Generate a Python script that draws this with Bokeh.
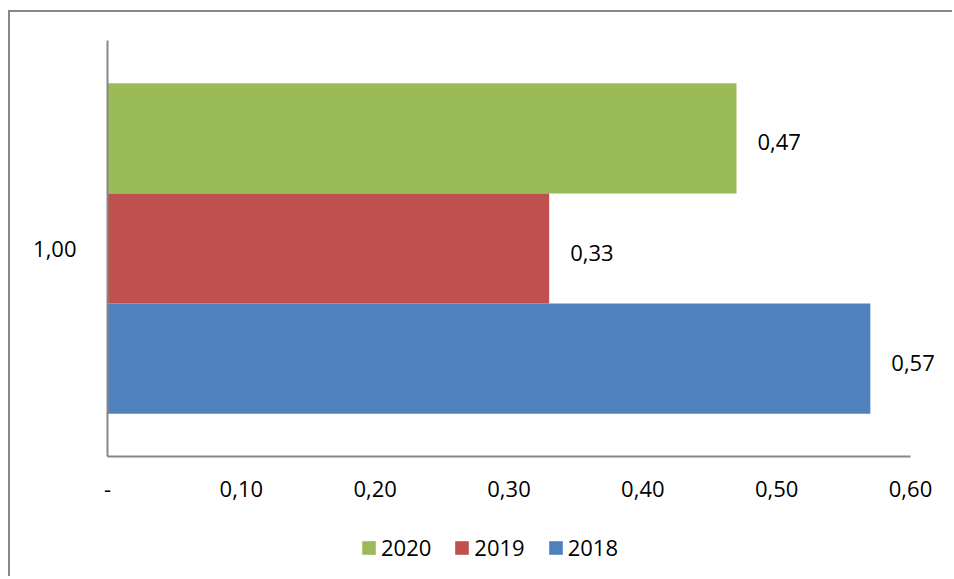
from bokeh.plotting import figure
from bokeh.layouts import column
from bokeh.models import (Range1d, FactorRange, FixedTicker, Legend, LegendItem,
                          LabelSet, ColumnDataSource)
from bokeh.transform import dodge
from bokeh.core.properties import value
from bokeh.embed import file_html
from bokeh.resources import INLINE

# ---- data ----
categories = ["1,00"]
series = ["2020", "2019", "2018"]
values = [0.47, 0.33, 0.57]
colors = ["#9BBB59", "#C0504D", "#4F81BD"]
offsets = [0.265, 0.0, -0.265]
x_ticks = [0.0, 0.1, 0.2, 0.3, 0.4, 0.5, 0.6]
x_tick_labels = ["-", "0,10", "0,20", "0,30", "0,40", "0,50", "0,60"]
x_axis_end = 0.6

FONT = "Open Sans"
FS = "22px"
GRAY = "#878787"
W = 942
AXIS_PX = 803          # pixel length of the 0 .. 0.6 axis
FRAME_PX = 837         # frame extends right so the last value label is not clipped

p = figure(width=W, height=504, output_backend="svg", toolbar_location=None,
           x_range=Range1d(0, x_axis_end * FRAME_PX / AXIS_PX),
           y_range=FactorRange(*categories, range_padding=0),
           min_border_left=97, min_border_top=28, min_border_right=W - 97 - FRAME_PX,
           min_border_bottom=60)
p.outline_line_color = None
p.xgrid.grid_line_color = None
p.ygrid.grid_line_color = None

# legend strip below the chart
lf = figure(width=W, height=60, output_backend="svg", toolbar_location=None,
            x_range=Range1d(0, 1), y_range=Range1d(0, 1),
            x_axis_location=None, y_axis_location=None,
            min_border=0, min_border_left=0, min_border_right=0,
            min_border_top=0, min_border_bottom=0)
lf.outline_line_color = None
lf.grid.visible = False

items = []
for name, v, c, off in zip(series, values, colors, offsets):
    src = ColumnDataSource({"cat": categories, "val": [v],
                            "lab": [f"{v:.2f}".replace(".", ",")]})
    p.hbar(y=dodge("cat", off, range=p.y_range), right="val", left=0, height=0.265,
           source=src, fill_color=c, line_color=None)
    p.add_layout(LabelSet(x="val", y=dodge("cat", off, range=p.y_range), text="lab",
                          source=src, x_offset=21, y_offset=-4, text_align="left",
                          text_baseline="middle", text_font=value(FONT),
                          text_font_size=FS, text_color="#000000"))
    swatch = lf.hbar(y="val", right="val", left=0, height=0.01, source=src,
                     fill_color=c, line_color=None, visible=False)
    items.append(LegendItem(label=name, renderers=[swatch]))

# axes
for ax in (p.xaxis[0], p.yaxis[0]):
    ax.axis_line_color = GRAY
    ax.axis_line_width = 2
    ax.major_tick_line_color = None
    ax.minor_tick_line_color = None
    ax.major_tick_out = 0
    ax.major_tick_in = 0
    ax.major_label_text_font = FONT
    ax.major_label_text_font_size = FS
    ax.major_label_text_color = "#000000"

p.xaxis.ticker = FixedTicker(ticks=x_ticks)
p.xaxis.bounds = (0, x_axis_end)
p.xaxis.major_label_overrides = {t: l for t, l in zip(x_ticks, x_tick_labels)}
p.xaxis.major_label_standoff = 24
p.yaxis.major_label_standoff = 31

legend = Legend(items=items, orientation="horizontal", location=(253, 14),
                glyph_width=17, glyph_height=17, label_standoff=4, spacing=22,
                padding=0, margin=0, border_line_color=None, background_fill_alpha=0,
                label_text_font=FONT, label_text_font_size=FS, label_text_color="#000000")
lf.add_layout(legend, "center")

layout = column(p, lf, spacing=0)
layout.styles = {"border-left": f"2px solid {GRAY}", "border-top": f"2px solid {GRAY}",
                 "margin-top": "10px", "margin-left": "8px"}

open("out.html", "w").write(file_html(layout, INLINE))
